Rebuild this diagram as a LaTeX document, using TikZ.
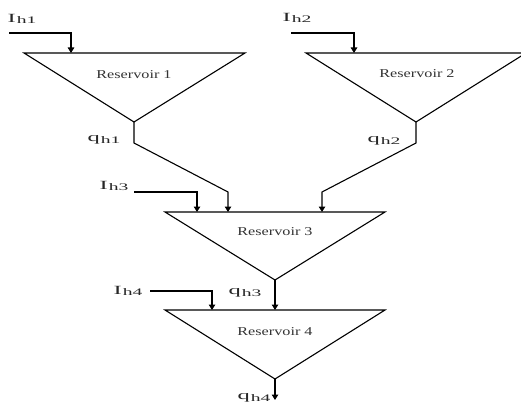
\documentclass[tikz,border=0pt]{standalone}
\usepackage{fontspec}
\setmainfont{Liberation Serif}
\usetikzlibrary{arrows.meta}
\newcommand{\lowidx}[1]{\kern0.5pt\raisebox{-0.3ex}{\fontsize{10}{10}\selectfont #1}}
\tikzset{
  rim/.style={line width=1.1pt},
  flow/.style={line width=1.1pt,-{Triangle[length=5.5pt,width=6.5pt]}},
  tag/.style={text=black!80,font=\fontsize{12}{12}\selectfont,xscale=1.35,inner sep=0pt},
  flowtag/.style={tag,text=black!85,font=\fontsize{12.5}{12}\selectfont,xscale=1.45},
}
\begin{document}
\begin{tikzpicture}[x=1pt,y=-1pt]
\useasboundingbox (0,0) rectangle (521,404);

% Reservoir corners (left, right, vertex)
\coordinate (r1-l) at (24,53);  \coordinate (r1-r) at (245,53);  \coordinate (r1-v) at (134,122);
\coordinate (r2-l) at (306,53); \coordinate (r2-r) at (526,53);  \coordinate (r2-v) at (416,122);
\coordinate (r3-l) at (165,212); \coordinate (r3-r) at (385,212); \coordinate (r3-v) at (275,280);
\coordinate (r4-l) at (165,310); \coordinate (r4-r) at (385,310); \coordinate (r4-v) at (275,379);

% Drawing reservoirs
\foreach \res in {r1,r2,r3,r4}
  \draw[rim] (\res-l) -- (\res-r) -- (\res-v) -- cycle;

% Inflow start points
\coordinate (s1) at (9,33);
\coordinate (s2) at (291,33);
\coordinate (s3) at (134,192);
\coordinate (s4) at (150,291);

% Entry points on reservoir tops
\coordinate (e1) at (71,53);
\coordinate (e2) at (354,53);
\coordinate (e3a) at (197,212);
\coordinate (e3b) at (228,212);
\coordinate (e3c) at (322,212);
\coordinate (e4a) at (212,310);
\coordinate (e4b) at (275,310);
\coordinate (out4) at (275,400);

% Drawing inflows
\draw[flow] (s1) -| (e1);
\draw[flow] (s2) -| (e2);
\draw[flow] (s3) -| (e3a);
\draw[flow] (s4) -| (e4a);

% Drawing outflows
\draw[flow] (r1-v) -- ++(0,21) -- ++(94,49) -- (e3b);
\draw[flow] (r2-v) -- ++(0,21) -- ++(-94,49) -- (e3c);
\draw[flow] (r3-v) -- (e4b);
\draw[flow] (r4-v) -- (out4);

% Reservoir names
\node[tag] (res1) at (134,75) {Reservoir 1};
\node[tag] (res2) at (417,74) {Reservoir 2};
\node[tag] (res3) at (275,232) {Reservoir 3};
\node[tag] (res4) at (275,332) {Reservoir 4};

% Flow labels
\node[flowtag] (ih1) at (22,19) {I\lowidx{h1}};
\node[flowtag] (ih2) at (297,18) {I\lowidx{h2}};
\node[flowtag] (ih3) at (114,186) {I\lowidx{h3}};
\node[flowtag] (ih4) at (128,291) {I\lowidx{h4}};
\node[flowtag] (qh1) at (104,140) {q\lowidx{h1}};
\node[flowtag] (qh2) at (384,141) {q\lowidx{h2}};
\node[flowtag] (qh3) at (245,293) {q\lowidx{h3}};
\node[flowtag] (qh4) at (254,398) {q\lowidx{h4}};
\end{tikzpicture}
\end{document}
